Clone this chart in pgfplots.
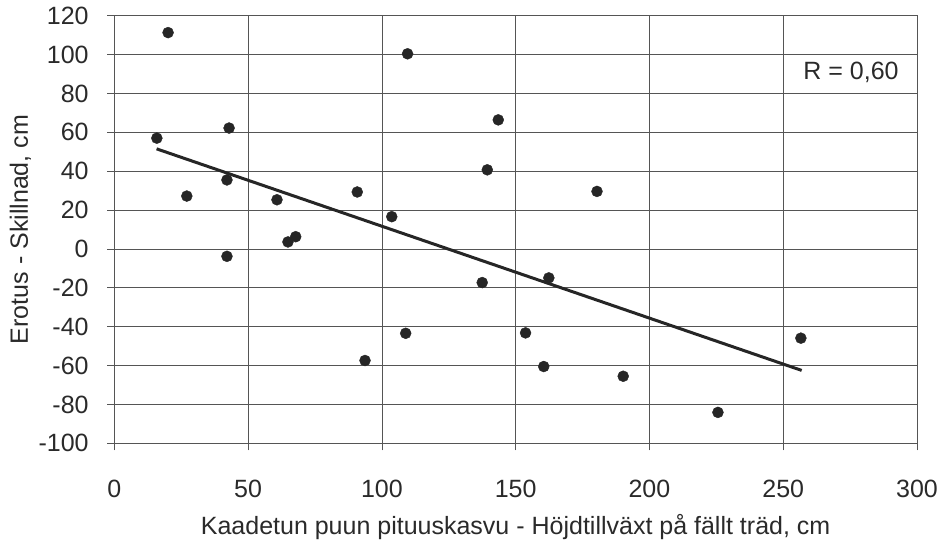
\documentclass[border=0pt]{standalone}
\usepackage{fontspec}
\setmainfont{Liberation Sans}
\usepackage{pgfplots}
\pgfplotsset{compat=1.18}
\definecolor{txt}{HTML}{2A2A2A}
\definecolor{gridc}{HTML}{555555}
\begin{document}
\fontsize{25bp}{30bp}\selectfont
\begin{tikzpicture}
\begin{axis}[
  scale only axis,
  width=802.7bp, height=427.6bp,
  xmin=0, xmax=300, ymin=-100, ymax=120,
  xtick={0,50,...,300}, ytick={-100,-80,...,120},
  grid=major,
  major grid style={gridc, line width=0.7bp},
  axis line style={gridc, line width=0.7bp},
  tick style={gridc, line width=0.7bp},
  tick align=outside,
  major tick length=7bp,
  xtick pos=bottom, ytick pos=left,
  /pgf/number format/assume math mode=true,
  ticklabel style={font=\fontsize{25bp}{30bp}\selectfont, text=txt},
  label style={font=\fontsize{25bp}{30bp}\selectfont, text=txt},
  xticklabel style={anchor=center, inner sep=0pt, yshift=-38.2bp},
  yticklabel style={anchor=east, inner sep=0pt, xshift=-18.5bp},
  xlabel={Kaadetun puun pituuskasvu - Höjdtillväxt på fällt träd, cm},
  ylabel={Erotus - Skillnad, cm},
  xlabel style={at={(axis description cs:0.5,-0.1957)}, anchor=center, inner sep=0pt},
  ylabel style={at={(axis description cs:-0.1171,0.5)}, anchor=center, inner sep=0pt},
  clip=false,
]
\addplot[only marks, mark=*, mark size=5.5bp, mark options={fill=black!85, draw=black!85}]
coordinates {
(15.9,57.0) (20.1,111.3) (27.1,27.2) (42.9,62.2) (42.1,35.5) (42.1,-3.8)
(60.8,25.3) (64.9,3.6) (67.8,6.3) (90.8,29.3) (93.7,-57.4) (103.7,16.6)
(109.6,100.4) (108.9,-43.4) (139.4,40.7) (143.5,66.4) (137.5,-17.3)
(162.4,-14.9) (153.7,-43.2) (160.5,-60.5) (180.4,29.6) (190.2,-65.5)
(225.6,-84.1) (256.6,-45.9)
};
\addplot[black!85, line width=3bp] coordinates {(15.8,51.5) (256.9,-62.5)};
\node[anchor=east, text=txt, inner sep=0pt] at (axis cs:293.2,90.6) {R = 0,60};
\end{axis}
\pgfresetboundingbox
\path (current axis.south west) ++(-114.3bp,-97.7bp) rectangle ([shift={(26bp,15.7bp)}]current axis.north east);
\end{tikzpicture}
\end{document}
